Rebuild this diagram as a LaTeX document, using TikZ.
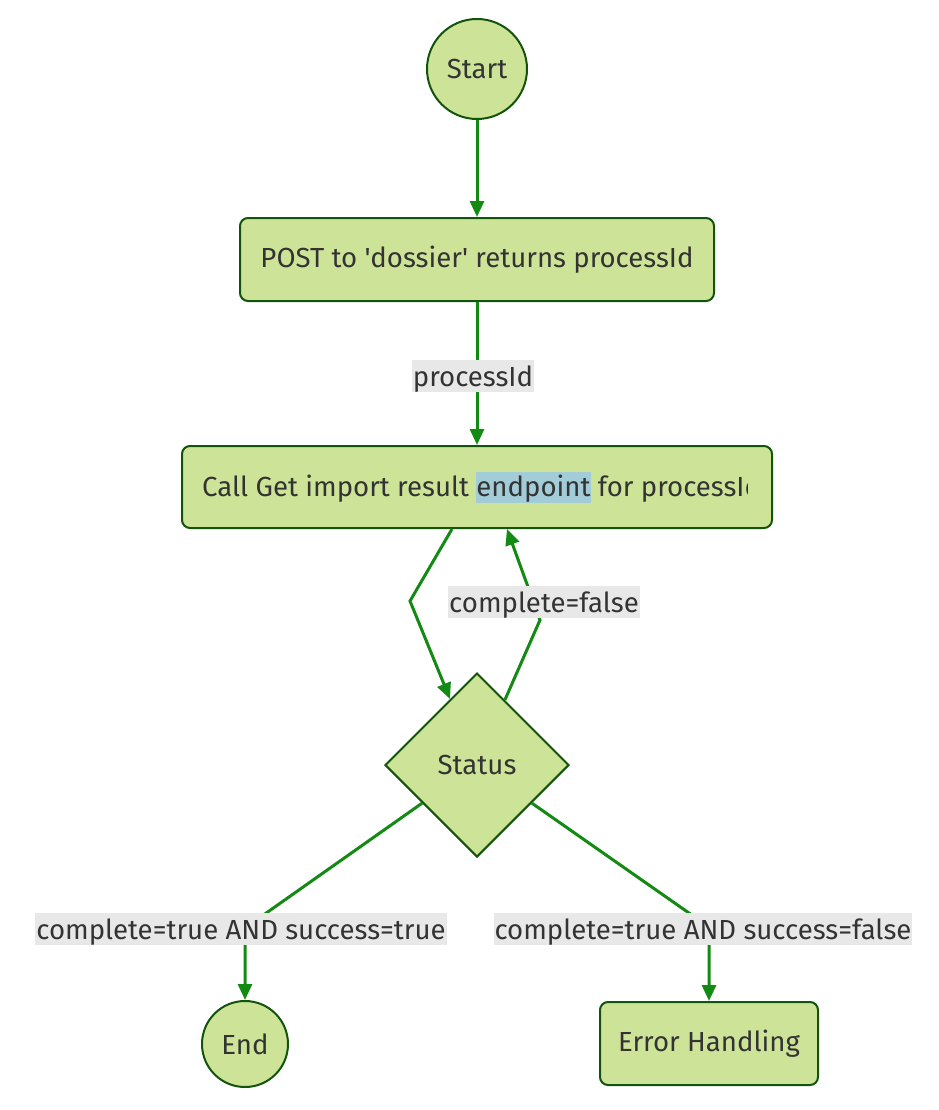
\documentclass[tikz,border=0pt]{standalone}
\usepackage{fontspec}
\setmainfont{Fira Sans}[Ligatures=TeXOff]
\usetikzlibrary{arrows.meta, calc, shapes.geometric}
\definecolor{nodefill}{HTML}{CDE498}
\definecolor{nodeline}{HTML}{13540C}
\definecolor{flowgreen}{HTML}{138A13}
\definecolor{textgray}{HTML}{333333}
\definecolor{lblgray}{HTML}{E8E8E8}
\definecolor{hlblue}{HTML}{A2CDD8}
\newcommand{\hlword}[1]{{\setlength{\fboxsep}{0pt}\colorbox{hlblue}{\rule[-6pt]{0pt}{31pt}#1}}}

\begin{document}
\begin{tikzpicture}[x=1pt, y=-1pt, font=\fontsize{27.6}{32}\selectfont, text=textgray,
  box/.style={draw=nodeline, line width=2pt, fill=nodefill, rounded corners=8pt, minimum height=83pt},
  term/.style={circle, draw=nodeline, line width=2pt, fill=nodefill, inner sep=0pt},
  choice/.style={diamond, draw=nodeline, line width=2pt, fill=nodefill, minimum size=184pt, inner sep=0pt, aspect=1},
  flow/.style={draw=flowgreen, line width=3pt, -{Triangle[length=16pt, width=14pt]}},
  lbl/.style={fill=lblgray, inner xsep=1pt, inner ysep=0pt, text height=26pt, text depth=6pt}]
\useasboundingbox[fill=white] (0,0) rectangle (938,1110);

\node[term, minimum size=100pt] (start) at (477,69) {Start};
\node[box, minimum width=474pt] (post) at (477,259.5) {POST to 'dossier' returns processId};
\node[box, minimum width=590pt, minimum height=82pt] (call) at (477,487) {};
\begin{scope}
\clip (190,450) rectangle (747,525);
\node[anchor=west, inner sep=0pt] (calltext) at (202,487) {Call Get import result \hlword{endpoint} for processId};
\end{scope}
\node[choice] (status) at (477,765) {Status};
\node[term, minimum size=86pt] (end) at (245,1044) {End};
\node[box, minimum width=218pt] (err) at (709,1043.5) {Error Handling};

\coordinate (b1) at (410,601);
\coordinate (b2) at (540,620);
\coordinate (b3) at (245,928);
\coordinate (b4) at (709,927);

\draw[flow] (start) -- (post);
\draw[flow] (post) -- (call);
\draw[flow] ([xshift=-25pt]call.south) -- (b1) -- (status);
\draw[flow] ($(status.north)!0.3!(status.east)$) -- (b2) -- ([xshift=30pt]call.south);
\draw[flow] ($(status.west)!0.41!(status.south)$) -- (b3) -- (end);
\draw[flow] ($(status.east)!0.41!(status.south)$) -- (b4) -- (err);

\node[lbl] (l1) at (473,376) {processId};
\node[lbl] (l2) at (544,602) {complete=false};
\node[lbl] (l3) at (241,929) {complete=true AND success=true};
\node[lbl] (l4) at (703,929) {complete=true AND success=false};
\end{tikzpicture}
\end{document}
